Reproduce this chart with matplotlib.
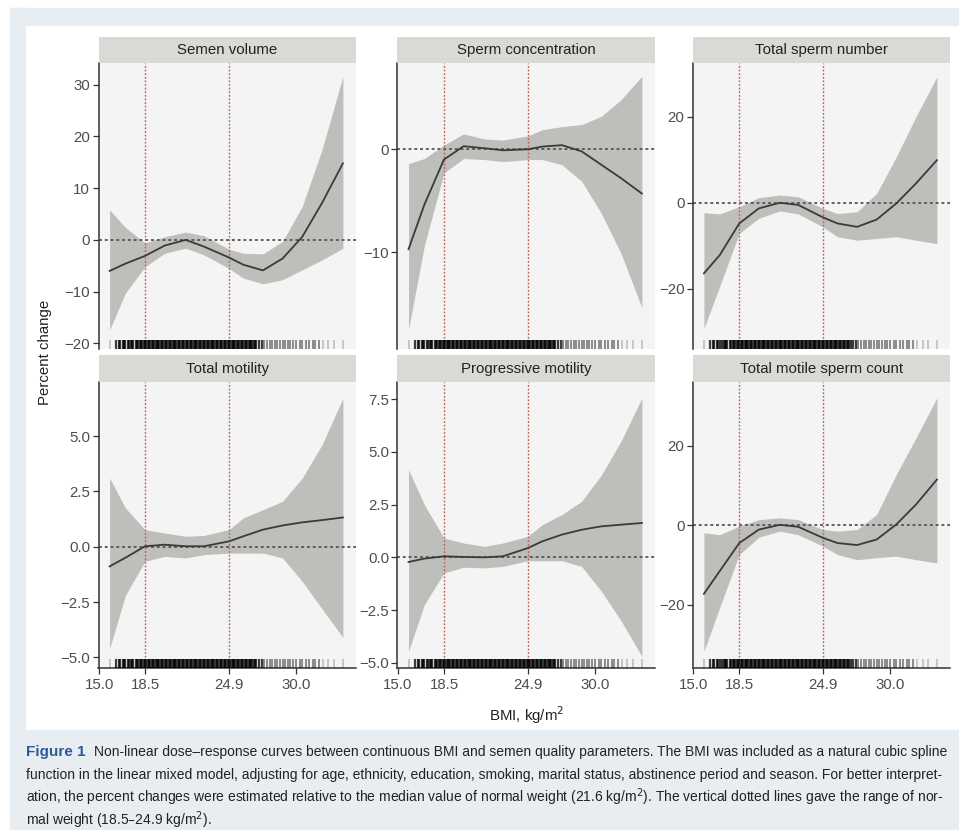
import numpy as np
import matplotlib.pyplot as plt
from matplotlib.patches import Rectangle

plt.rcParams['font.family'] = ['Liberation Sans', 'DejaVu Sans']

bmi = [15.8, 17.0, 18.5, 20.0, 21.6, 23.0, 24.9, 26.0, 27.5, 29.0, 30.5, 32.0, 33.6]

titles = ["Semen volume", "Sperm concentration", "Total sperm number",
          "Total motility", "Progressive motility", "Total motile sperm count"]

fit = [
    [-6.0, -4.6, -3.1, -1.1, 0.0, -1.3, -3.4, -4.8, -5.9, -3.6, 0.6, 7.1, 14.8],
    [-9.7, -5.4, -1.0, 0.3, 0.1, -0.1, 0.0, 0.26, 0.4, -0.2, -1.5, -2.8, -4.3],
    [-16.4, -12.2, -4.8, -1.3, 0.0, -0.5, -3.4, -4.8, -5.6, -3.9, -0.15, 4.5, 9.9],
    [-0.89, -0.5, 0.02, 0.09, 0.02, 0.02, 0.24, 0.47, 0.77, 0.96, 1.1, 1.2, 1.32],
    [-0.22, -0.06, 0.05, 0.02, 0.0, 0.05, 0.44, 0.76, 1.08, 1.31, 1.47, 1.55, 1.63],
    [-17.3, -11.6, -4.5, -1.1, 0.1, -0.4, -3.2, -4.5, -5.0, -3.6, 0.2, 5.2, 11.5],
]
upper = [
    [5.8, 2.4, -0.6, 0.6, 1.5, 0.8, -1.8, -2.6, -2.7, -0.3, 6.5, 17.4, 31.6],
    [-1.4, -0.9, 0.4, 1.5, 1.0, 0.9, 1.3, 1.9, 2.2, 2.4, 3.2, 4.8, 7.1],
    [-2.3, -2.6, -0.9, 1.2, 1.8, 1.4, -1.3, -2.5, -2.1, 2.2, 10.7, 20.0, 29.3],
    [3.1, 1.75, 0.77, 0.62, 0.47, 0.51, 0.77, 1.3, 1.67, 2.05, 3.1, 4.6, 6.7],
    [4.16, 2.5, 0.92, 0.68, 0.52, 0.68, 1.0, 1.55, 2.03, 2.66, 3.9, 5.5, 7.56],
    [-1.9, -2.4, -0.25, 1.4, 1.85, 1.4, -1.1, -1.5, -1.1, 2.7, 12.8, 22.0, 32.1],
]
lower = [
    [-17.4, -10.3, -5.2, -2.6, -1.6, -2.9, -5.5, -7.4, -8.5, -7.7, -5.8, -3.9, -1.6],
    [-17.5, -9.4, -2.3, -0.9, -1.0, -1.2, -1.0, -1.0, -1.5, -3.1, -6.2, -10.1, -15.4],
    [-29.2, -19.5, -7.1, -3.6, -1.9, -2.6, -5.6, -7.9, -8.7, -8.3, -7.9, -8.7, -9.5],
    [-4.6, -2.2, -0.66, -0.44, -0.51, -0.36, -0.29, -0.29, -0.29, -0.51, -1.57, -2.8, -4.1],
    [-4.46, -2.25, -0.74, -0.47, -0.5, -0.43, -0.16, -0.16, -0.16, -0.43, -1.6, -3.0, -4.7],
    [-31.8, -20.8, -7.4, -3.0, -1.5, -2.4, -5.3, -7.4, -8.7, -8.2, -7.8, -8.7, -9.5],
]

yticks = [
    [30, 20, 10, 0, -10, -20],
    [0, -10],
    [20, 0, -20],
    [5.0, 2.5, 0.0, -2.5, -5.0],
    [7.5, 5.0, 2.5, 0.0, -2.5, -5.0],
    [20, 0, -20],
]
ytick_fmt = ["{:.0f}", "{:.0f}", "{:.0f}", "{:.1f}", "{:.1f}", "{:.0f}"]
ylims = [(-21.1, 34.2), (-19.4, 8.38), (-34.0, 32.5),
         (-5.48, 7.44), (-5.25, 8.32), (-36.0, 36.1)]

xticks = [15.0, 18.5, 24.9, 30.0]
normal_range = [18.5, 24.9]

# observed BMI values shown as rug (dense core, thinning tail)
rug_core = [16.3, 16.5, 16.6, 16.8, 16.9, 17.0, 17.2, 17.3, 17.4, 17.5, 17.6, 17.8,
            17.9, 18.0, 18.1, 18.2, 18.3, 18.4, 18.5, 18.6, 18.7, 18.8, 18.9, 19.0,
            19.1, 19.2, 19.3, 19.4, 19.5, 19.6, 19.7, 19.8, 19.9, 20.0, 20.1, 20.2,
            20.3, 20.4, 20.5, 20.6, 20.7, 20.8, 20.9, 21.0, 21.1, 21.2, 21.3, 21.4,
            21.5, 21.6, 21.7, 21.8, 21.9, 22.0, 22.1, 22.2, 22.3, 22.4, 22.5, 22.6,
            22.7, 22.8, 22.9, 23.0, 23.1, 23.2, 23.3, 23.4, 23.5, 23.6, 23.7, 23.8,
            23.9, 24.0, 24.1, 24.2, 24.3, 24.4, 24.5, 24.6, 24.7, 24.8, 24.9, 25.0,
            25.1, 25.2, 25.3, 25.4, 25.5, 25.6, 25.7, 25.8, 25.9, 26.0, 26.1, 26.2,
            26.3, 26.4, 26.5, 26.6, 26.7, 26.8, 26.9, 27.0, 27.2, 27.4]
rug_tail = [27.6, 27.8, 28.0, 28.2, 28.4, 28.6, 28.8, 29.0, 29.2, 29.4, 29.6, 29.8,
            30.0, 30.3, 30.5, 30.8, 31.0, 31.3, 31.5, 31.8]
rug_sparse = [15.8, 32.1, 32.5, 32.9, 33.6]

W, H = 959, 830
fig = plt.figure(figsize=(W / 100, H / 100), dpi=100, facecolor='white')

# page frame of the screenshot
band = '#e8edf2'
fig.patches.append(Rectangle((10 / W, 1 - 25 / H), 1, 17 / H, transform=fig.transFigure, color=band, zorder=-5))
fig.patches.append(Rectangle((10 / W, 0), 15 / W, 1 - 8 / H, transform=fig.transFigure, color=band, zorder=-5))
fig.patches.append(Rectangle((10 / W, 0), 1, 100 / H, transform=fig.transFigure, color=band, zorder=-5))


def rect(x0, y0, x1, y1):
    return [x0 / W, 1 - y1 / H, (x1 - x0) / W, (y1 - y0) / H]


cols = [(98.5, 356), (397.4, 655), (692.8, 950)]
rows = [(63, 349), (382, 668)]
strips = [(37, 63), (355, 382)]

ink = '#333333'
for i in range(6):
    r, c = divmod(i, 3)
    x0, x1 = cols[c]
    ax = fig.add_axes(rect(x0, rows[r][0], x1, rows[r][1]))
    ax.set_facecolor('#f4f4f4')

    ax.fill_between(bmi, lower[i], upper[i], color='#bebebb', lw=0, zorder=1)
    ax.plot(bmi, fit[i], color='#3a3a3a', lw=1.3, zorder=3)
    ax.axhline(0, color='#555555', lw=1.3, ls=(0, (1.6, 1.6)), zorder=2)
    for v in normal_range:
        ax.axvline(v, color='#c0605a', lw=1.0, ls=(0, (1.3, 1.3)), zorder=2)

    tr = ax.get_xaxis_transform()
    ax.vlines(rug_core, 0, 0.03, transform=tr, colors='black', lw=1.6, alpha=0.75, zorder=4)
    ax.vlines(rug_tail, 0, 0.03, transform=tr, colors='black', lw=1.2, alpha=0.5, zorder=4)
    ax.vlines(rug_sparse, 0, 0.03, transform=tr, colors='black', lw=1.2, alpha=0.22, zorder=4)

    ax.set_xlim(14.95, 34.6)
    ax.set_ylim(*ylims[i])
    ax.set_yticks(yticks[i])
    ax.set_yticklabels([ytick_fmt[i].format(t).replace('-', '\u2212') for t in yticks[i]])

    for s in ['top', 'right']:
        ax.spines[s].set_visible(False)
    ax.spines['left'].set_color(ink)
    ax.spines['left'].set_linewidth(1.1)
    ax.tick_params(axis='y', length=4, width=0.9, color=ink, labelsize=10.8,
                   labelcolor='#4d4d4d', pad=2)
    if r == 1:
        ax.set_xticks(xticks)
        ax.set_xticklabels([f"{t:.1f}" for t in xticks])
        ax.spines['bottom'].set_color(ink)
        ax.spines['bottom'].set_linewidth(1.1)
        ax.tick_params(axis='x', length=4, width=0.9, color=ink, labelsize=10.8,
                       labelcolor='#4d4d4d', pad=3)
    else:
        ax.spines['bottom'].set_visible(False)
        ax.set_xticks([])

    sax = fig.add_axes(rect(x0, strips[r][0], x1, strips[r][1]))
    sax.set_facecolor('#d9d9d5')
    sax.set_xticks([])
    sax.set_yticks([])
    for s in sax.spines.values():
        s.set_visible(False)
    sax.text(0.5, 0.5, titles[i], ha='center', va='center', fontsize=10.8, color='#222222')

fig.text(45 / W, 1 - 352 / H, "Percent change", rotation=90, ha='center', va='center',
         fontsize=10.8, color='#222222')
fig.text(527 / W, 1 - 715 / H, "BMI, kg/m$^2$", ha='center', va='center',
         fontsize=10.8, color='#222222')

# caption
cap_lines = [
    "Non-linear dose\u2013response curves between continuous BMI and semen quality parameters. The BMI was included as a natural cubic spline",
    "function in the linear mixed model, adjusting for age, ethnicity, education, smoking, marital status, abstinence period and season. For better interpret-",
    "ation, the percent changes were estimated relative to the median value of normal weight (21.6 kg/m$^2$). The vertical dotted lines gave the range of nor-",
    "mal weight (18.5\u201324.9 kg/m$^2$).",
]
cap_y = [756, 779, 802, 825]
head = fig.text(26 / W, 1 - cap_y[0] / H, "Figure 1", fontsize=11, fontweight='bold',
                color='#2d5a9b', va='baseline')
fig.canvas.draw()
bb = head.get_window_extent()
fig.text((bb.x1 + 8) / W, 1 - cap_y[0] / H, cap_lines[0], fontsize=10.0, color='#222222',
         va='baseline')
for y, line in zip(cap_y[1:], cap_lines[1:]):
    fig.text(26 / W, 1 - y / H, line, fontsize=10.0, color='#222222', va='baseline')

fig.savefig("out.png", dpi=100, facecolor=fig.get_facecolor())
